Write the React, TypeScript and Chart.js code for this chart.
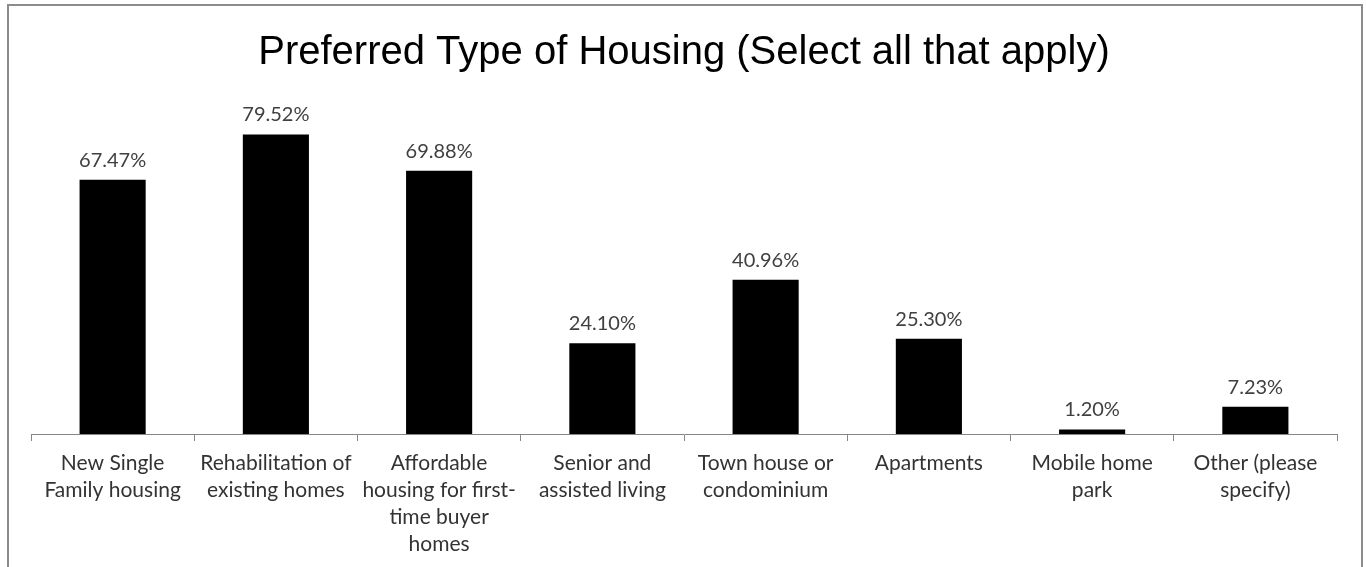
import React, { useEffect, useRef } from "react";
import { Chart, registerables } from "chart.js";

Chart.register(...registerables);

const categories: string[][] = [
  ["New Single", "Family housing"],
  ["Rehabilitation of", "existing homes"],
  ["Affordable", "housing for first-", "time buyer", "homes"],
  ["Senior and", "assisted living"],
  ["Town house or", "condominium"],
  ["Apartments"],
  ["Mobile home", "park"],
  ["Other (please", "specify)"],
];

const values: number[] = [67.47, 79.52, 69.88, 24.1, 40.96, 25.3, 1.2, 7.23];

const titleText = "Preferred Type of Housing (Select all that apply)";

const labelPlugin = {
  id: "valueLabels",
  afterDatasetsDraw(chart: any) {
    const ctx = chart.ctx;
    const meta = chart.getDatasetMeta(0);
    ctx.save();
    ctx.font = "20px Lato";
    ctx.fillStyle = "#404040";
    ctx.textAlign = "center";
    ctx.textBaseline = "alphabetic";
    meta.data.forEach((bar: any, i: number) => {
      ctx.fillText(values[i].toFixed(2) + "%", bar.x, bar.y - 13);
    });
    ctx.restore();
  },
};

export default function App() {
  const ref = useRef<HTMLCanvasElement>(null);
  useEffect(() => {
    if (!ref.current) return;
    const chart = new Chart(ref.current, {
      type: "bar",
      data: {
        labels: categories,
        datasets: [
          {
            data: values,
            backgroundColor: "#000000",
            borderWidth: 0,
            barPercentage: 0.405,
            categoryPercentage: 1,
          },
        ],
      },
      options: {
        responsive: false,
        animation: false,
        maintainAspectRatio: false,
        layout: { padding: { left: 22, right: 24, top: 0, bottom: 0 } },
        plugins: {
          legend: { display: false },
          tooltip: { enabled: false },
          title: {
            display: true,
            text: titleText,
            color: "#000000",
            font: { family: "Liberation Sans", size: 40, weight: "normal" },
            padding: { top: 23, bottom: 18 },
          },
        },
        scales: {
          x: {
            grid: {
              display: true,
              drawOnChartArea: false,
              drawTicks: true,
              tickLength: 7,
              color: "#868686",
              offset: true,
            },
            border: { display: true, color: "#868686", width: 1 },
            ticks: {
              color: "#333333",
              font: { family: "Lato", size: 21, lineHeight: "27px" },
              padding: 9,
              maxRotation: 0,
              autoSkip: false,
            },
          },
          y: {
            display: false,
            min: 0,
            max: 90,
          },
        },
      },
      plugins: [labelPlugin],
    });
    return () => chart.destroy();
  }, []);

  return (
    <div
      style={{
        position: "absolute",
        left: 0,
        top: 0,
        width: 1366,
        height: 567,
        background: "#ffffff",
        overflow: "hidden",
      }}
    >
      <div
        style={{
          position: "absolute",
          left: 7,
          top: 4,
          width: 1352,
          height: 600,
          border: "2px solid #8c8c8c",
          background: "#ffffff",
        }}
      >
        <canvas ref={ref} width={1352} height={561} style={{ display: "block" }} />
      </div>
    </div>
  );
}
